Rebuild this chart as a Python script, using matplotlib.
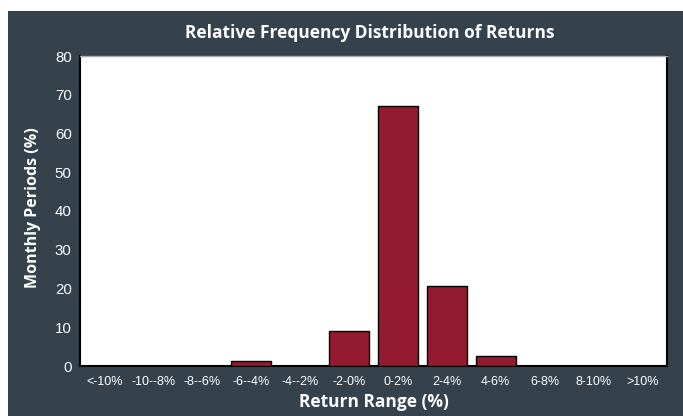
import matplotlib
matplotlib.use("Agg")
import matplotlib.pyplot as plt
from matplotlib.patches import Rectangle

categories = ["<-10%", "-10--8%", "-8--6%", "-6--4%", "-4--2%", "-2-0%",
              "0-2%", "2-4%", "4-6%", "6-8%", "8-10%", ">10%"]
values = [0, 0, 0, 1.4, 0, 9.1, 67.0, 20.6, 2.7, 0, 0, 0]
yticks = [0, 10, 20, 30, 40, 50, 60, 70, 80]

W, H = 683, 416
fig = plt.figure(figsize=(W / 100, H / 100), dpi=100, facecolor="white")
bg = "#35414b"
fig.patches.append(Rectangle((8 / W, 0), 1 - 8 / W, (H - 11) / H,
                             transform=fig.transFigure, facecolor=bg,
                             edgecolor="none", zorder=-10))

left, right, top, bottom = 80, 667, 56, 366
ax = fig.add_axes([left / W, 1 - bottom / H, (right - left) / W, (bottom - top) / H])
ax.set_facecolor("white")

x = list(range(len(categories)))
ax.bar(x, values, width=0.82, color="#941b2f", edgecolor="black", linewidth=1.0, zorder=3)
ax.set_xlim(-0.5, len(categories) - 0.5)
ax.set_ylim(0, 80)
ax.set_yticks(yticks)
ax.set_xticks(x)
ax.set_xticklabels(categories)
ax.tick_params(axis="both", length=0, colors="white")
ax.tick_params(axis="y", labelsize=10.8, pad=6)
ax.tick_params(axis="x", labelsize=9, pad=7)
for lab in ax.get_xticklabels() + ax.get_yticklabels():
    lab.set_family("Liberation Sans")
for s in ["left", "bottom", "right"]:
    ax.spines[s].set_color("black")
    ax.spines[s].set_linewidth(1.5)
ax.spines["top"].set_color("#aaaaaa")
ax.spines["top"].set_linewidth(1.0)

fig.text(370 / W, 1 - 33 / H, "Relative Frequency Distribution of Returns",
         ha="center", va="center", color="white", fontsize=12.5,
         fontweight="bold", family="Open Sans")
fig.text(374 / W, 1 - 402 / H, "Return Range (%)", ha="center", va="center",
         color="white", fontsize=12.5, fontweight="bold", family="Open Sans")
fig.text(33 / W, 1 - 208 / H, "Monthly Periods (%)", ha="center", va="center",
         rotation=90, color="white", fontsize=11.5, fontweight="bold", family="Open Sans")

fig.savefig("out.png", dpi=100, facecolor="white")
